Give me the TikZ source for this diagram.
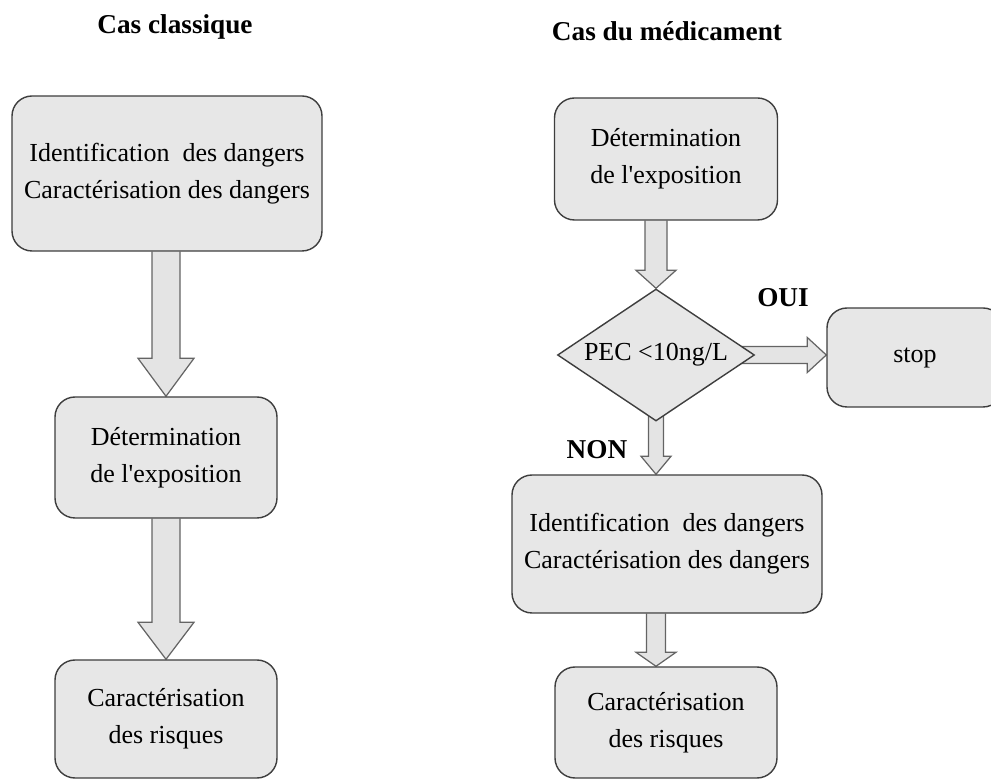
\documentclass[tikz,border=0pt]{standalone}
\usepackage{fontspec}
\setmainfont{Liberation Serif}
\usetikzlibrary{calc, shapes.geometric}
\definecolor{boxgray}{RGB}{231,231,231}
\definecolor{edgegray}{RGB}{62,62,62}
\definecolor{arrowgray}{RGB}{228,228,228}
\definecolor{arrowedge}{RGB}{100,100,100}
\pgfdeclarelayer{background}
\pgfsetlayers{background,main}

% hollow block arrows, drawn behind the boxes
\newcommand{\blockdown}[5]{%
  \begin{pgfonlayer}{background}
  \path[blockarrow] let \p1=(#1), \p2=(#2) in
    (\x1-#3,\y1) -- (\x1-#3,\y2+#5) -- (\x1-#4,\y2+#5) -- (\x1,\y2)
    -- (\x1+#4,\y2+#5) -- (\x1+#3,\y2+#5) -- (\x1+#3,\y1);
  \end{pgfonlayer}}
\newcommand{\blockright}[5]{%
  \begin{pgfonlayer}{background}
  \path[blockarrow] let \p1=(#1), \p2=(#2) in
    (\x1,\y1-#3) -- (\x2-#5,\y1-#3) -- (\x2-#5,\y1-#4) -- (\x2,\y1)
    -- (\x2-#5,\y1+#4) -- (\x2-#5,\y1+#3) -- (\x1,\y1+#3);
  \end{pgfonlayer}}

\begin{document}
\begin{tikzpicture}[
    stepbox/.style={draw=edgegray, fill=boxgray, rounded corners=0.4cm, line width=0.8pt, align=center, font=\fontsize{14.8}{21}\selectfont},
    testbox/.style={draw=edgegray, fill=boxgray, diamond, aspect=1.5, line width=0.8pt, inner sep=0pt, font=\fontsize{14.8}{21}\selectfont},
    blockarrow/.style={draw=arrowedge, fill=arrowgray, line width=0.7pt, line join=miter},
    heading/.style={font=\fontsize{15.5}{18}\selectfont\bfseries},
]
    \useasboundingbox (0,0) rectangle (19.82,-15.6);

    % Classic case
    \node[heading] (titleL) at (3.5,-0.54) {Cas classique};
    \node[stepbox, minimum width=6.2cm, minimum height=3.1cm] (dangL) at (3.34,-3.47) {
        Identification\ \ des dangers\\
        Caractérisation des dangers
    };
    \node[stepbox, minimum width=4.44cm, minimum height=2.42cm] (expoL) at (3.32,-9.15) {
        Détermination\\
        de l\textquotesingle exposition
    };
    \node[stepbox, minimum width=4.44cm, minimum height=2.36cm] (riskL) at (3.32,-14.38) {
        Caractérisation\\
        des risques
    };

    \blockdown{expoL.north |- dangL.south}{expoL.north}{0.28cm}{0.56cm}{0.76cm}
    \blockdown{riskL.north |- expoL.south}{riskL.north}{0.28cm}{0.56cm}{0.74cm}

    % Drug case
    \node[heading] (titleR) at (13.34,-0.62) {Cas du médicament};
    \node[stepbox, minimum width=4.46cm, minimum height=2.44cm] (expoR) at (13.32,-3.18) {
        Détermination\\
        de l\textquotesingle exposition
    };
    \node[testbox, minimum width=3.94cm, minimum height=2.64cm] (test) at (13.12,-7.1) {PEC <10ng/L};
    \node[stepbox, minimum width=3.52cm, minimum height=1.98cm] (stop) at (18.3,-7.15) {stop};
    \node[stepbox, minimum width=6.2cm, minimum height=2.76cm] (dangR) at (13.34,-10.88) {
        Identification\ \ des dangers\\
        Caractérisation des dangers
    };
    \node[stepbox, minimum width=4.44cm, minimum height=2.22cm] (riskR) at (13.32,-14.45) {
        Caractérisation\\
        des risques
    };

    \blockdown{test.north |- expoR.south}{test.north}{0.22cm}{0.4cm}{0.36cm}
    \blockright{test}{stop.west}{0.17cm}{0.35cm}{0.38cm}
    \blockdown{test}{test.south |- dangR.north}{0.15cm}{0.3cm}{0.36cm}
    \blockdown{test.south |- dangR.south}{test.south |- riskR.north}{0.19cm}{0.4cm}{0.28cm}

    % Branch labels
    \node[heading] (yes) at (15.66,-5.96) {OUI};
    \node[heading] (no) at (11.94,-9.0) {NON};
\end{tikzpicture}
\end{document}
